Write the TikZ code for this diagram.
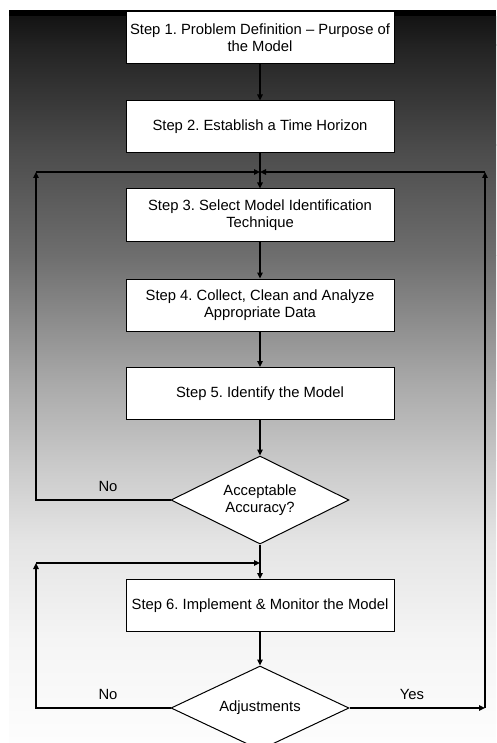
\documentclass[tikz,border=0pt]{standalone}
\usepackage{fontspec}
\setmainfont{Liberation Sans}
\usetikzlibrary{shapes.geometric,arrows.meta}

\tikzset{
  stepbox/.style={draw=black, line width=1pt, fill=white, minimum width=268pt,
    minimum height=52pt, inner sep=0pt, align=center,
    font=\fontsize{14.8}{17}\selectfont},
  decision/.style={diamond, shape aspect=2, draw=black, line width=1pt, fill=white,
    inner sep=0pt, minimum width=178pt, align=center,
    font=\fontsize{14.8}{17}\selectfont},
  flow/.style={line width=1.3pt, draw=black, -{Triangle[length=6pt,width=5.5pt]}},
  lbl/.style={font=\fontsize{14.8}{17}\selectfont, inner sep=0pt}
}

\begin{document}
\frenchspacing
\begin{tikzpicture}[x=1pt, y=-1pt]
  \useasboundingbox (0,0) rectangle (496,743);
  \fill[white] (0,0) rectangle (496,743);

  % backdrop: dark at the top fading to almost white at the bottom
  \fill[black] (9,10) rectangle (496,17.5);
  \foreach \ya/\yb/\ca/\cb in {17/45.5/20/34, 45/145.5/34/74, 145/255.5/74/110,
      255/380.5/110/168, 380/460.5/168/200, 460/540.5/200/228,
      540/640.5/228/245, 640/743/245/253}
    \shade[top color={rgb,255:red,\ca;green,\ca;blue,\ca},
           bottom color={rgb,255:red,\cb;green,\cb;blue,\cb}]
      (9,\ya) rectangle (496,\yb);

  % process steps
  \node[stepbox] (s1) at (260,37.5) {Step 1. Problem Definition -- Purpose of\\the Model};
  \node[stepbox] (s2) at (260,127) {Step 2. Establish a Time Horizon};
  \node[stepbox] (s3) at (260,215) {Step 3. Select Model Identification\\Technique};
  \node[stepbox] (s4) at (260,305) {Step 4. Collect, Clean and Analyze\\Appropriate Data};
  \node[stepbox] (s5) at (260,393.5) {Step 5. Identify the Model};
  \node[decision, minimum height=88pt] (d1) at (260,500) {Acceptable\\Accuracy?};
  \node[stepbox] (s6) at (260,605.5) {Step 6. Implement \& Monitor the Model};
  \node[decision, minimum height=84pt] (d2) at (260,708) {Adjustments};

  % junction points of the feedback loops
  \coordinate (j1) at (260,172);
  \coordinate (j2) at (260,563);
  \coordinate (lc1) at (36,172);
  \coordinate (lc2) at (36,563);
  \coordinate (rc1) at (485,172);
  \coordinate (rc2) at (485,708);

  % main flow
  \draw[flow] (s1) -- (s2);
  \draw[flow] (s2) -- (s3);
  \draw[flow] (s3) -- (s4);
  \draw[flow] (s4) -- (s5);
  \draw[flow] (s5) -- (d1);
  \draw[flow] (d1) -- (s6);
  \draw[flow] (s6) -- (d2);

  % "No" from accuracy check back to step 3
  \draw[flow] (d1.west) -| (lc1);
  \draw[flow] (lc1) -- (j1);

  % "No" from adjustments back to step 6
  \draw[flow] (d2.west) -| (lc2);
  \draw[flow] (lc2) -- (j2);

  % "Yes" from adjustments back to step 3
  \draw[flow] (d2.east) -- (rc2);
  \draw[flow] (rc2) -- (rc1);
  \draw[flow] (rc1) -- (j1);

  % branch labels
  \node[lbl] (no1) at (108,486) {No};
  \node[lbl] (no2) at (108,694) {No};
  \node[lbl] (yes) at (412,694) {Yes};
\end{tikzpicture}
\end{document}
